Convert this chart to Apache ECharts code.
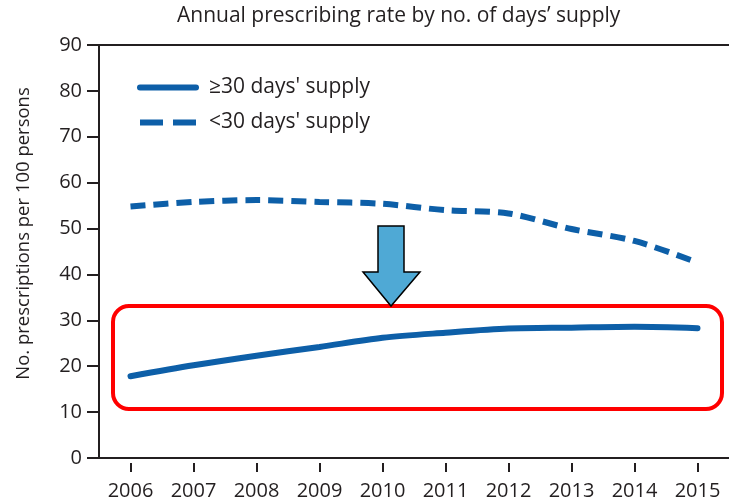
<!DOCTYPE html>
<html>
<head>
<meta charset="utf-8">
<script src="https://cdn.jsdelivr.net/npm/echarts@6/dist/echarts.min.js"></script>
<style>
  html, body { margin: 0; padding: 0; background: #fff; }
  #chart { width: 729px; height: 504px; }
</style>
</head>
<body>
<div id="chart"></div>
<script>
// data
const years = ['2006', '2007', '2008', '2009', '2010', '2011', '2012', '2013', '2014', '2015']
const longSupply = [17.8, 20.2, 22.3, 24.2, 26.2, 27.3, 28.2, 28.4, 28.6, 28.3]
const shortSupply = [54.8, 55.8, 56.2, 55.8, 55.4, 54.0, 53.3, 49.9, 47.3, 42.6]
const yTicks = [0, 10, 20, 30, 40, 50, 60, 70, 80, 90]

const blue = '#0d5fa8'
const ink = '#231f20'
const font = 'Open Sans'

const chart = echarts.init(document.getElementById('chart'))

const option = {
  animation: false,
  textStyle: { fontFamily: font },
  title: {
    text: 'Annual prescribing rate by no. of days\u2019 supply',
    left: 177,
    top: 6,
    padding: 0,
    textStyle: { fontFamily: font, fontSize: 21, fontWeight: 'normal', color: ink }
  },
  legend: {
    left: 137,
    top: 77,
    padding: 0,
    orient: 'vertical',
    itemWidth: 56,
    itemHeight: 14,
    itemGap: 14,
    itemStyle: { opacity: 0 },
    lineStyle: { width: 6 },
    textStyle: { fontFamily: font, fontSize: 21, color: ink, padding: [0, 0, 0, 8] },
    data: [
      { name: '\u226530 days\' supply' },
      { name: '<30 days\' supply', lineStyle: { type: [23, 10], width: 6 } }
    ]
  },
  grid: { left: 99, right: 0, top: 45, bottom: 46 },
  xAxis: [{
    type: 'category',
    data: years,
    boundaryGap: true,
    axisLine: { lineStyle: { color: ink, width: 2 } },
    axisTick: { show: false },
    axisLabel: { show: false }
  }, {
    type: 'category',
    data: years,
    position: 'bottom',
    offset: 5,
    boundaryGap: true,
    axisLine: { show: false },
    axisTick: { show: true, alignWithLabel: true, length: 9, lineStyle: { color: ink, width: 2 } },
    axisLabel: { fontFamily: font, fontSize: 20, color: ink, margin: 18 }
  }, {
    type: 'category',
    data: years,
    position: 'top',
    axisLine: { lineStyle: { color: ink, width: 2 } },
    axisTick: { show: false },
    axisLabel: { show: false }
  }],
  yAxis: {
    type: 'value',
    min: 0,
    max: 90,
    interval: 10,
    name: 'No. prescriptions per 100 persons',
    nameLocation: 'middle',
    nameGap: 66,
    nameTextStyle: { fontFamily: font, fontSize: 18.5, color: ink, padding: [0, 0, 0, 36] },
    axisLine: { show: true, lineStyle: { color: ink, width: 2 } },
    axisTick: { show: true, length: 12, lineStyle: { color: ink, width: 2 } },
    axisLabel: {
      fontFamily: font, fontSize: 20, color: ink, margin: 17,
      formatter: v => (yTicks.indexOf(v) >= 0 ? String(v) : '')
    },
    splitLine: { show: false }
  },
  series: [{
    name: '\u226530 days\' supply',
    type: 'line',
    data: longSupply,
    smooth: 0.3,
    symbol: 'none',
    lineStyle: { color: blue, width: 6, cap: 'round' },
    itemStyle: { color: blue }
  }, {
    name: '<30 days\' supply',
    type: 'line',
    data: shortSupply,
    smooth: 0.3,
    symbol: 'none',
    lineStyle: { color: blue, width: 6, type: [15, 8] },
    itemStyle: { color: blue }
  }],
  graphic: [{
    type: 'rect',
    shape: { x: 113, y: 306, width: 609, height: 103, r: 16 },
    style: { fill: 'none', stroke: '#ff0000', lineWidth: 4 },
    z: 10
  }, {
    type: 'polygon',
    shape: {
      points: [[378, 226], [404, 226], [404, 272], [420, 272], [391, 306], [363, 272], [378, 272]]
    },
    style: { fill: '#4fa9d5', stroke: '#000', lineWidth: 1.5 },
    z: 11
  }]
}

chart.setOption(option)
</script>
</body>
</html>
